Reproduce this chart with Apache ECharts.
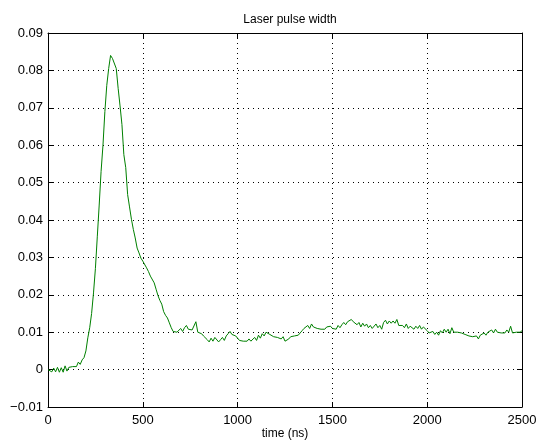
<!DOCTYPE html>
<html>
<head>
<meta charset="utf-8">
<script src="https://cdn.jsdelivr.net/npm/echarts@6/dist/echarts.min.js"></script>
<style>
  html, body { margin: 0; padding: 0; background: #fff; }
  #chart { width: 538px; height: 441px; }
</style>
</head>
<body>
<div id="chart"></div>
<script>
// sample spacing (ns) of the recorded trace
const sampleStep = 10
// detector signal, one value per 10 ns starting at t = 0
const pulse = [
  0.0000, 0.0000, -0.0006, 0.0004, -0.0006, 0.0006, -0.0007, 0.0005, -0.0007, 0.0010,
  -0.0004, 0.0006, 0.0002, 0.0008, 0.0012, 0.0008, 0.0020, 0.0014, 0.0026, 0.0032,
  0.0050, 0.0085, 0.0112, 0.0150, 0.0205, 0.0270, 0.0355, 0.0440, 0.0530, 0.0600,
  0.0690, 0.0760, 0.0805, 0.0840, 0.0832, 0.0830, 0.0805, 0.0752, 0.0705, 0.0655,
  0.0575, 0.0540, 0.0468, 0.0435, 0.0402, 0.0375, 0.0352, 0.0325, 0.0312, 0.0298,
  0.0290, 0.0285, 0.0272, 0.0262, 0.0250, 0.0245, 0.0232, 0.0215, 0.0198, 0.0185,
  0.0175, 0.0155, 0.0145, 0.0138, 0.0125, 0.0112, 0.0102, 0.0098, 0.0100, 0.0095,
  0.0110, 0.0102, 0.0112, 0.0118, 0.0108, 0.0112, 0.0106, 0.0110, 0.0128, 0.0100,
  0.0104, 0.0096, 0.0090, 0.0088, 0.0080, 0.0074, 0.0084, 0.0076, 0.0086, 0.0082,
  0.0074, 0.0080, 0.0086, 0.0078, 0.0090, 0.0096, 0.0102, 0.0094, 0.0098, 0.0090,
  0.0092, 0.0078, 0.0082, 0.0076, 0.0080, 0.0076, 0.0082, 0.0076, 0.0080, 0.0086,
  0.0078, 0.0092, 0.0084, 0.0096, 0.0090, 0.0100, 0.0098, 0.0094, 0.0096, 0.0088,
  0.0092, 0.0086, 0.0090, 0.0082, 0.0088, 0.0076, 0.0072, 0.0082, 0.0088, 0.0092,
  0.0090, 0.0094, 0.0092, 0.0098, 0.0104, 0.0110, 0.0106, 0.0118, 0.0110, 0.0122,
  0.0114, 0.0118, 0.0110, 0.0112, 0.0108, 0.0112, 0.0108, 0.0114, 0.0110, 0.0116,
  0.0110, 0.0114, 0.0108, 0.0118, 0.0112, 0.0120, 0.0126, 0.0120, 0.0128, 0.0124,
  0.0134, 0.0128, 0.0132, 0.0120, 0.0126, 0.0114, 0.0124, 0.0116, 0.0122, 0.0112,
  0.0118, 0.0110, 0.0114, 0.0122, 0.0112, 0.0118, 0.0108, 0.0126, 0.0132, 0.0122,
  0.0130, 0.0124, 0.0130, 0.0124, 0.0134, 0.0118, 0.0114, 0.0118, 0.0112, 0.0122,
  0.0110, 0.0116, 0.0120, 0.0108, 0.0116, 0.0110, 0.0118, 0.0108, 0.0114, 0.0110,
  0.0104, 0.0098, 0.0096, 0.0102, 0.0094, 0.0100, 0.0092, 0.0104, 0.0098, 0.0108,
  0.0100, 0.0108, 0.0096, 0.0112, 0.0100, 0.0102, 0.0100, 0.0104, 0.0098, 0.0096,
  0.0094, 0.0098, 0.0090, 0.0094, 0.0088, 0.0086, 0.0090, 0.0082, 0.0092, 0.0094,
  0.0098, 0.0092, 0.0100, 0.0096, 0.0106, 0.0098, 0.0108, 0.0100, 0.0104, 0.0098,
  0.0100, 0.0098, 0.0106, 0.0100, 0.0116, 0.0098, 0.0102, 0.0100, 0.0104, 0.0100,
  0.0104
]
const xTicks = [0, 500, 1000, 1500, 2000, 2500]
const yTicks = [-0.01, 0, 0.01, 0.02, 0.03, 0.04, 0.05, 0.06, 0.07, 0.08, 0.09]

const font = 'Liberation Sans, Arial, Helvetica, sans-serif'
const edge = { show: true, onZero: false, lineStyle: { color: '#000', width: 1 } }
const tick = { show: true, inside: true, length: 5, lineStyle: { color: '#000' } }
const grid = { show: true, lineStyle: { color: '#000', width: 1, type: [1, 4] } }

const chart = echarts.init(document.getElementById('chart'))
chart.setOption({
  animation: false,
  backgroundColor: '#fff',
  title: {
    text: 'Laser pulse width',
    left: 285,
    textAlign: 'center',
    top: 9,
    textStyle: { fontFamily: font, fontSize: 12, fontWeight: 'normal', color: '#000' }
  },
  grid: {
    left: 48, right: 16, top: 33, bottom: 34,
    containLabel: false, outerBoundsMode: 'none'
  },
  xAxis: [
    {
      type: 'value',
      min: xTicks[0],
      max: xTicks[xTicks.length - 1],
      interval: 500,
      name: 'time (ns)',
      nameLocation: 'middle',
      nameGap: 21,
      nameMoveOverlap: false,
      nameTextStyle: { fontFamily: font, fontSize: 12, color: '#000' },
      axisLine: edge,
      axisTick: tick,
      axisLabel: { fontFamily: font, fontSize: 13, color: '#000', margin: 7, formatter: v => String(v) },
      splitLine: grid
    },
    {
      type: 'value',
      position: 'top',
      min: xTicks[0],
      max: xTicks[xTicks.length - 1],
      interval: 500,
      axisLine: edge,
      axisTick: tick,
      axisLabel: { show: false },
      splitLine: { show: false }
    }
  ],
  yAxis: [
    {
      type: 'value',
      min: yTicks[0],
      max: yTicks[yTicks.length - 1],
      interval: 0.01,
      axisLine: edge,
      axisTick: tick,
      axisLabel: {
        fontFamily: font, fontSize: 13, color: '#000', margin: 5,
        formatter: v => {
          const r = Math.round(v * 100) / 100
          return r < 0 ? '\u2212' + String(-r) : String(r)
        }
      },
      splitLine: grid
    },
    {
      type: 'value',
      position: 'right',
      min: yTicks[0],
      max: yTicks[yTicks.length - 1],
      interval: 0.01,
      axisLine: edge,
      axisTick: tick,
      axisLabel: { show: false },
      splitLine: { show: false }
    }
  ],
  series: [
    {
      type: 'line',
      xAxisIndex: 0,
      yAxisIndex: 0,
      showSymbol: false,
      lineStyle: { color: '#008000', width: 1 },
      data: pulse.map((v, i) => [i * sampleStep, v])
    },
    {
      // empty series so the top and right tick axes are laid out
      type: 'line',
      xAxisIndex: 1,
      yAxisIndex: 1,
      silent: true,
      data: []
    }
  ]
})
</script>
</body>
</html>
